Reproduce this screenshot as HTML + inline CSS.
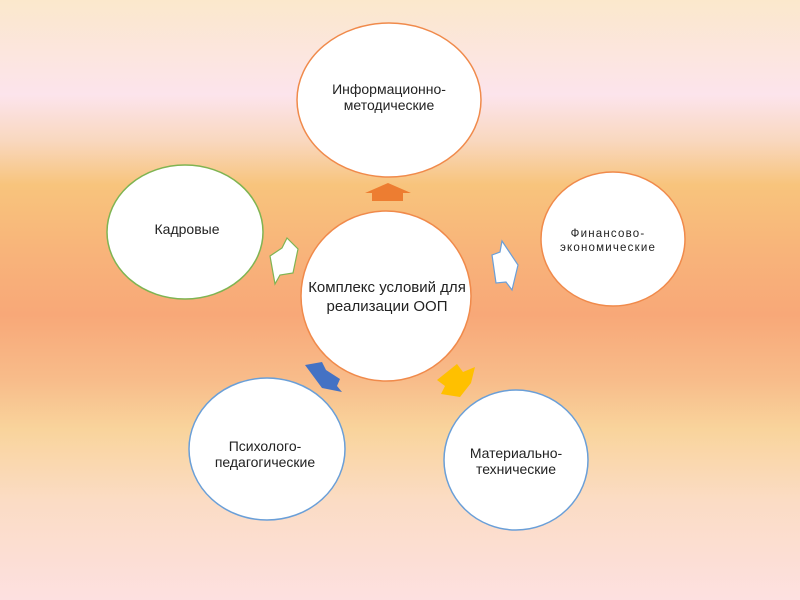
<!DOCTYPE html>
<html><head><meta charset="utf-8"><style>
html,body{margin:0;padding:0}
body{width:800px;height:600px;overflow:hidden;background:linear-gradient(to bottom,#fbe8cc 0px,#fce4ec 95px,#f9d8c0 140px,#f8c47c 185px,#f8b47a 250px,#f8a878 315px,#f8bc8a 380px,#f9d49c 430px,#fbdcc4 500px,#fde0e0 600px);font-family:"Liberation Sans","Noto Sans CJK SC",sans-serif}
</style></head><body>
<svg width="800" height="600" xmlns="http://www.w3.org/2000/svg" style="position:absolute;left:0;top:0" font-family="Liberation Sans, sans-serif" fill="#222">
<ellipse cx="389" cy="100" rx="92" ry="77" fill="#fff" stroke="#f08a4b" stroke-width="1.5"/>
<ellipse cx="185" cy="232" rx="78" ry="67" fill="#fff" stroke="#7fb452" stroke-width="1.5"/>
<ellipse cx="613" cy="239" rx="72" ry="67" fill="#fff" stroke="#f08a4b" stroke-width="1.5"/>
<ellipse cx="267" cy="449" rx="78" ry="71" fill="#fff" stroke="#6a9fd8" stroke-width="1.5"/>
<ellipse cx="516" cy="460" rx="72" ry="70" fill="#fff" stroke="#6a9fd8" stroke-width="1.5"/>
<ellipse cx="386" cy="296" rx="85" ry="85" fill="#fff" stroke="#f08a4b" stroke-width="1.5"/>
<polygon points="365,193 388,183 411,193 403,193 403,201 372,201 372,193" fill="#ed7d31"/>
<polygon points="270,256 282,248 287,238 298,249 293,273 280,275 275,284" fill="#fff" stroke="#7fb452" stroke-width="1.2"/>
<polygon points="492,255 500,252 502,241 518,265 512,290 506,282 496,283" fill="#fff" stroke="#6a9fd8" stroke-width="1.2"/>
<polygon points="305,365 322,362 326,370 340,379 337,386 342,392 322,388" fill="#4472c4"/>
<polygon points="437,380 457,364 463,372 475,367 471,383 460,397 441,394 445,386" fill="#ffc000"/>
<g font-size="14" text-anchor="middle">
<text x="389" y="94">Информационно-</text><text x="389" y="110">методические</text>
<text x="187" y="234">Кадровые</text>
<text x="608" y="237" font-size="11.5" letter-spacing="1.2">Финансово-</text><text x="608" y="251" font-size="11.5" letter-spacing="1.2">экономические</text>
<text x="265" y="451">Психолого-</text><text x="265" y="467">педагогические</text>
<text x="516" y="458">Материально-</text><text x="516" y="474">технические</text>
<text x="387" y="292" font-size="15">Комплекс условий для</text><text x="387" y="311" font-size="15">реализации ООП</text>
</g>
</svg>
</body></html>
